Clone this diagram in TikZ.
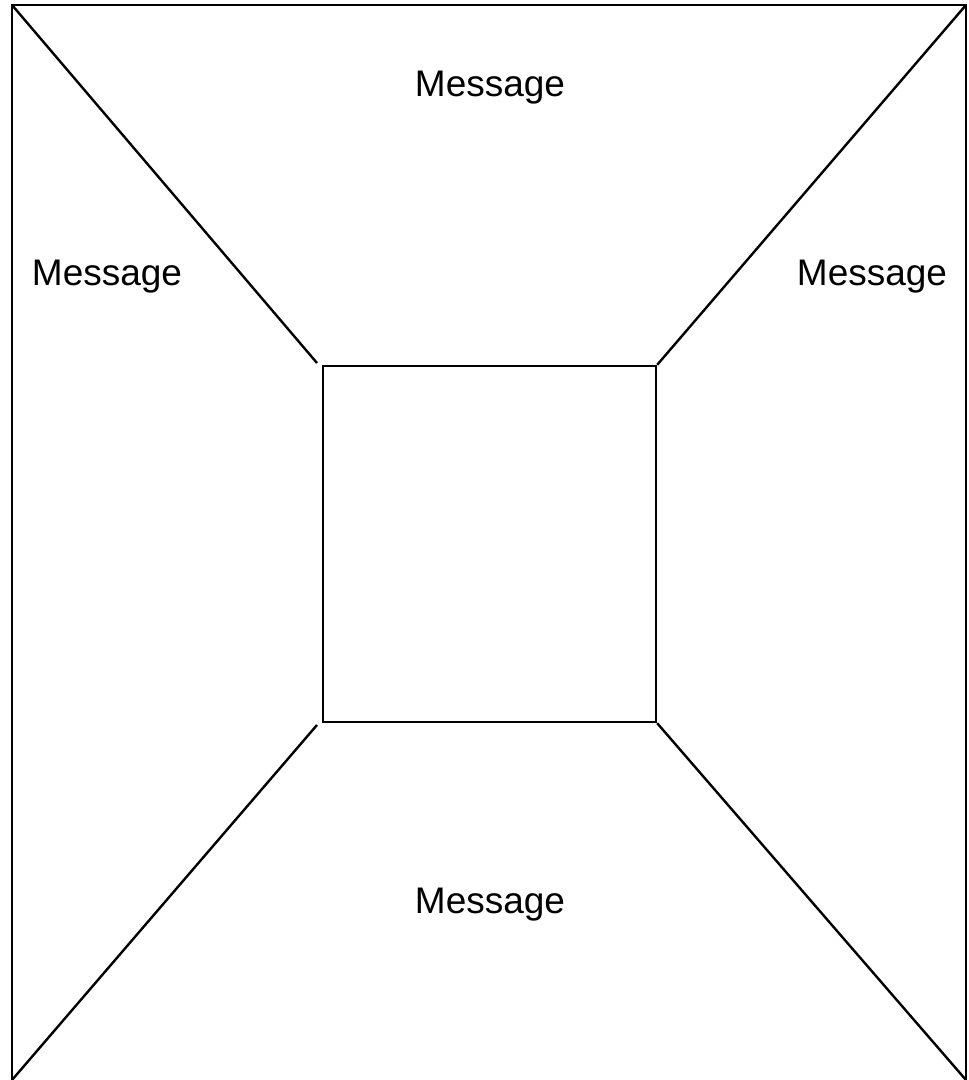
\documentclass[tikz,border=0pt]{standalone}
\usepackage{fontspec}
\setmainfont{Liberation Sans}
\begin{document}
\begin{tikzpicture}[x=1pt,y=-1pt,
  edge/.style={line width=2.4pt,line cap=butt},
  msg/.style={font=\fontsize{37}{42}\selectfont,inner sep=0pt,anchor=center}]
\useasboundingbox (0,0) rectangle (969,1080);
\begin{scope}
\clip (0,0) rectangle (969,1080);
% outer frame
\coordinate (otl) at (12,5);
\coordinate (otr) at (966,5);
\coordinate (obl) at (12,1085);
\coordinate (obr) at (966,1085);
\draw[edge] (obl) -- (otl) -- (otr) -- (obr);
% inner square
\node[draw,line width=2.4pt,minimum width=333pt,minimum height=356pt,inner sep=0pt] (sq) at (489.5,544) {};
% diagonals
\coordinate (d1) at (317,363);
\coordinate (d3) at (317,725);
\coordinate (b1) at (12,1080);
\coordinate (b2) at (966,1080);
\draw[edge] (otl) -- (d1);
\draw[edge] (otr) -- (sq.north east);
\draw[edge] (d3) -- (b1);
\draw[edge] (sq.south east) -- (b2);
\end{scope}
\node[msg] (top) at (490,88) {Message};
\node[msg] (left) at (107,277) {Message};
\node[msg] (right) at (872,277) {Message};
\node[msg] (bottom) at (490,905) {Message};
\end{tikzpicture}
\end{document}
